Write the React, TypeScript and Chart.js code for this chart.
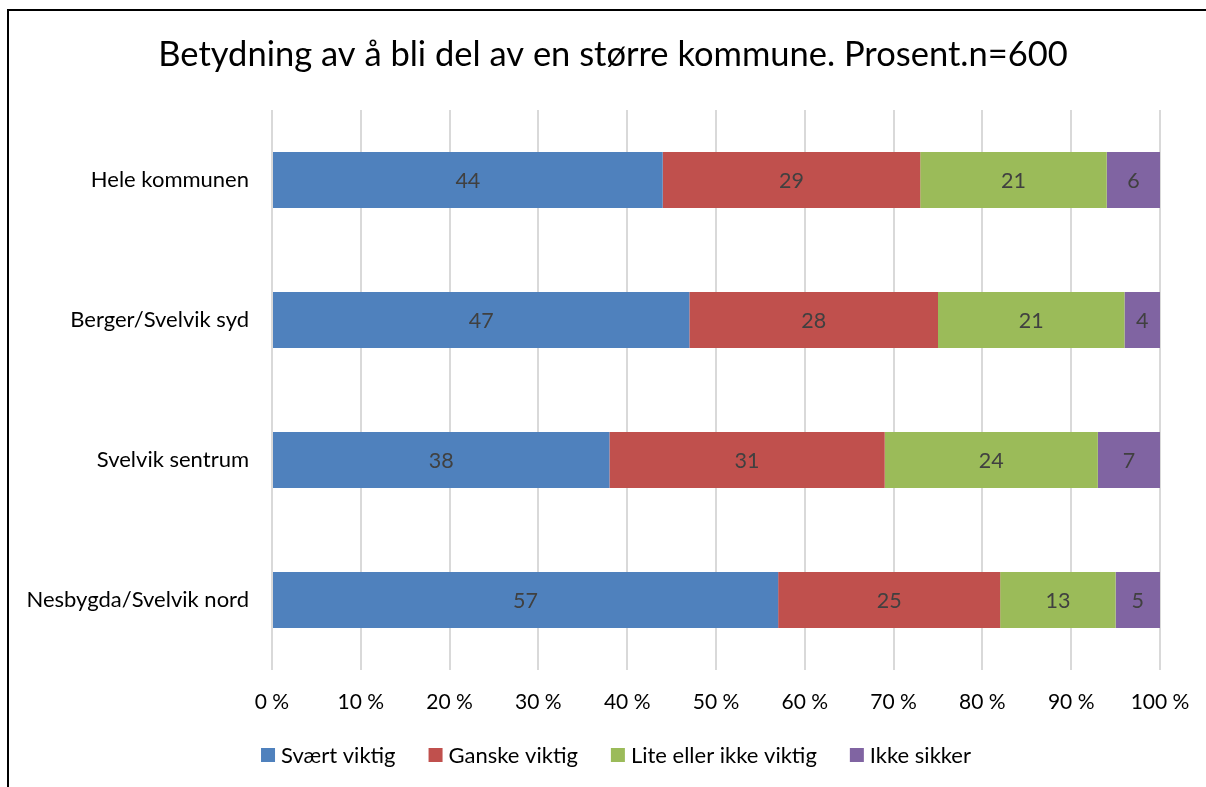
import React, { useEffect, useRef } from "react";
import { Chart, registerables } from "chart.js";

Chart.register(...registerables);

const categories = ["Hele kommunen", "Berger/Svelvik syd", "Svelvik sentrum", "Nesbygda/Svelvik nord"];
const seriesNames = ["Svært viktig", "Ganske viktig", "Lite eller ikke viktig", "Ikke sikker"];
const svaertViktig = [44, 47, 38, 57];
const ganskeViktig = [29, 28, 31, 25];
const liteViktig = [21, 21, 24, 13];
const ikkeSikker = [6, 4, 7, 5];
const seriesColors = ["#4F81BD", "#C0504D", "#9BBB59", "#8064A2"];
const titleText = "Betydning av å bli del av en større kommune. Prosent.n=600";
const tickSuffix = " %";

const FONT = "Lato, 'Open Sans', sans-serif";

const decorPlugin = {
  id: "decor",
  afterDatasetsDraw(chart: any) {
    const ctx = chart.ctx;
    ctx.save();
    ctx.fillStyle = "#404040";
    ctx.font = `21.5px ${FONT}`;
    ctx.textAlign = "center";
    ctx.textBaseline = "middle";
    chart.data.datasets.forEach((ds: any, i: number) => {
      const meta = chart.getDatasetMeta(i);
      meta.data.forEach((el: any, j: number) => {
        const p = el.getProps(["x", "y", "base"], true);
        ctx.fillText(String(ds.data[j]), (p.x + p.base) / 2, p.y + 1);
      });
    });
    ctx.restore();
  },
  afterDraw(chart: any) {
    const ctx = chart.ctx;
    ctx.save();
    // border
    ctx.strokeStyle = "#000";
    ctx.lineWidth = 2;
    ctx.beginPath();
    ctx.moveTo(8, 800);
    ctx.lineTo(8, 10);
    ctx.lineTo(1210, 10);
    ctx.stroke();
    // title
    ctx.fillStyle = "#000";
    ctx.font = `34.5px ${FONT}`;
    ctx.textAlign = "center";
    ctx.textBaseline = "middle";
    ctx.fillText(titleText, 613, 55);
    // legend
    ctx.font = `22px ${FONT}`;
    ctx.textAlign = "left";
    const box = 14;
    const gapText = 6;
    const gapItem = 33;
    const widths = seriesNames.map((n) => ctx.measureText(n).width);
    const total = widths.reduce((a, w) => a + box + gapText + w, 0) + gapItem * (seriesNames.length - 1);
    let x = 616 - total / 2;
    const cy = 755;
    seriesNames.forEach((n, i) => {
      ctx.fillStyle = seriesColors[i];
      ctx.fillRect(x, cy - box / 2, box, box);
      ctx.fillStyle = "#000";
      ctx.fillText(n, x + box + gapText, cy + 1);
      x += box + gapText + widths[i] + gapItem;
    });
    ctx.restore();
  },
};

export default function App() {
  const ref = useRef<HTMLCanvasElement | null>(null);
  useEffect(() => {
    if (!ref.current) return;
    const seriesData = [svaertViktig, ganskeViktig, liteViktig, ikkeSikker];
    const chart = new Chart(ref.current, {
      type: "bar",
      data: {
        labels: categories,
        datasets: seriesNames.map((name, i) => ({
          label: name,
          data: seriesData[i],
          backgroundColor: seriesColors[i],
          borderWidth: 0,
          categoryPercentage: 0.8,
          barPercentage: 0.5,
        })),
      },
      options: {
        indexAxis: "y",
        responsive: false,
        animation: false,
        devicePixelRatio: 1,
        layout: { padding: { left: 0, right: 46, top: 110, bottom: 0 } },
        plugins: {
          legend: { display: false },
          title: { display: false },
          tooltip: { enabled: false },
        },
        scales: {
          x: {
            stacked: true,
            min: 0,
            max: 100,
            grid: { color: "#D9D9D9", lineWidth: 2, drawTicks: false },
            border: { display: false },
            ticks: {
              stepSize: 10,
              padding: 20,
              color: "#000",
              font: { family: FONT, size: 21 },
              callback: (v: any) => `${v}${tickSuffix}`,
            },
            afterFit: (s: any) => {
              s.height = 117;
              s.paddingLeft = 0;
              s.paddingRight = 0;
            },
          },
          y: {
            stacked: true,
            grid: { display: false, drawTicks: false },
            border: { display: false },
            ticks: {
              padding: 23,
              color: "#000",
              font: { family: FONT, size: 22 },
            },
            afterFit: (s: any) => {
              s.width = 272;
              s.paddingTop = 0;
              s.paddingBottom = 0;
            },
          },
        },
      },
      plugins: [decorPlugin],
    });
    return () => chart.destroy();
  }, []);
  return (
    <canvas
      ref={ref}
      width={1206}
      height={787}
      style={{ position: "fixed", left: 0, top: 0, width: 1206, height: 787, display: "block", background: "#fff" }}
    />
  );
}
